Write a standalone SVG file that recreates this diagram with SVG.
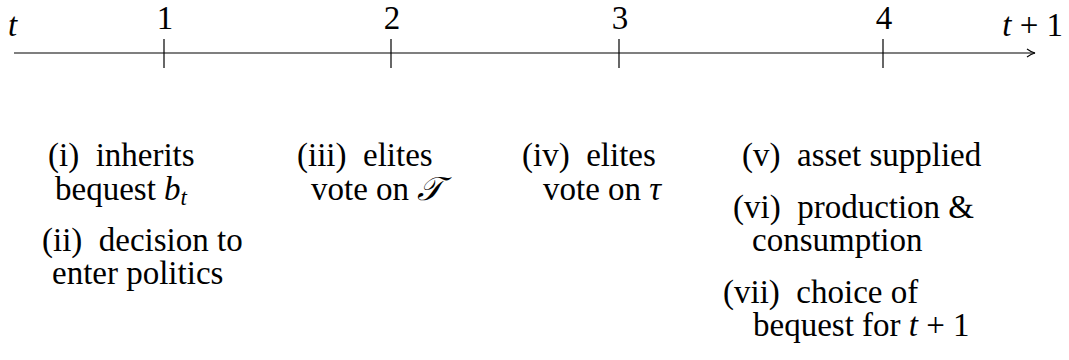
<svg xmlns="http://www.w3.org/2000/svg" width="1069" height="360" viewBox="0 0 1069 360">
  <defs>
    <style>
      text { font-family: "Liberation Serif", "DejaVu Serif", serif; font-size: 33px; fill: #000; white-space: pre; }
      .m { font-style: italic; }
      .r { text-anchor: end; }
      .c { text-anchor: middle; }
      .axis { stroke: #000; stroke-width: 1.2; fill: none; }
    </style>
    <marker id="arrow" viewBox="0 0 10 10" refX="9" refY="5" markerWidth="10" markerHeight="10" orient="auto" markerUnits="userSpaceOnUse">
      <path d="M1,1 Q5,4 9,5 Q5,6 1,9" fill="none" stroke="#000" stroke-width="1.1"/>
    </marker>
  </defs>
  <rect width="1069" height="360" fill="#fff"/>

  <!-- time axis and ticks -->
  <g id="connectors">
    <line class="axis" x1="14" y1="53" x2="1035" y2="53" marker-end="url(#arrow)"/>
    <line class="axis" x1="164" y1="39" x2="164" y2="68"/>
    <line class="axis" x1="391" y1="39" x2="391" y2="68"/>
    <line class="axis" x1="619" y1="39" x2="619" y2="68"/>
    <line class="axis" x1="883" y1="39" x2="883" y2="68"/>
  </g>

  <g id="label-t"><text class="m" x="8" y="36">t</text></g>
  <g id="label-t1"><text class="r" x="1063" y="36" xml:space="preserve"><tspan class="m">t</tspan> + 1</text></g>
  <g id="tick-1"><text class="c" x="165" y="29">1</text></g>
  <g id="tick-2"><text class="c" x="392" y="29">2</text></g>
  <g id="tick-3"><text class="c" x="620" y="29">3</text></g>
  <g id="tick-4"><text class="c" x="884" y="29">4</text></g>

  <g id="event-i">
    <text x="48" y="166" xml:space="preserve">(i)  inherits</text>
    <text x="55" y="200">bequest <tspan class="m">b</tspan><tspan class="m" font-size="23" dy="5">t</tspan></text>
  </g>
  <g id="event-ii">
    <text x="42" y="251" xml:space="preserve">(ii)  decision to</text>
    <text x="52" y="284">enter politics</text>
  </g>
  <g id="event-iii">
    <text x="297" y="166" xml:space="preserve">(iii)  elites</text>
    <text x="311" y="200">vote on <tspan class="m">𝒯</tspan></text>
  </g>
  <g id="event-iv">
    <text x="522" y="166" xml:space="preserve">(iv)  elites</text>
    <text x="543" y="200">vote on <tspan class="m">τ</tspan></text>
  </g>
  <g id="event-v">
    <text x="742" y="166" xml:space="preserve">(v)  asset supplied</text>
  </g>
  <g id="event-vi">
    <text x="733" y="218" xml:space="preserve">(vi)  production &amp;</text>
    <text x="752" y="251">consumption</text>
  </g>
  <g id="event-vii">
    <text x="723" y="303" xml:space="preserve">(vii)  choice of</text>
    <text x="753" y="336" xml:space="preserve">bequest for <tspan class="m">t</tspan> + 1</text>
  </g>
</svg>
